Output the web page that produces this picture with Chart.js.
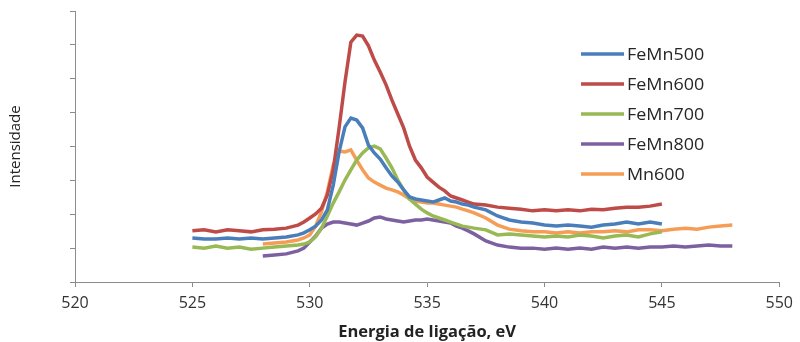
<!DOCTYPE html>
<html>
<head>
<meta charset="utf-8">
<script src="https://cdn.jsdelivr.net/npm/chart.js@4.4.1/dist/chart.umd.min.js"></script>
<style>
  html, body { margin: 0; padding: 0; background: #ffffff; }
  #wrap { width: 800px; height: 342px; position: relative; }
</style>
</head>
<body>
<div id="wrap"><canvas id="c" width="800" height="342"></canvas></div>
<script>
// ---- Data ----
const seriesNames = ["FeMn500", "FeMn600", "FeMn700", "FeMn800", "Mn600"];
const xTickValues = [520, 525, 530, 535, 540, 545, 550];

// binding energy grid for FeMn500 / FeMn600 / FeMn700 (eV)
const energyA = [525,525.5,526,526.5,527,527.5,528,528.5,529,529.5,
  529.75,530,530.25,530.5,530.75,531,531.25,531.5,531.75,532,532.25,532.5,532.75,533,533.25,533.5,533.75,534,534.25,534.5,534.75,535,535.25,535.5,535.75,536,536.25,536.5,536.75,537,
  537.5,538,538.5,539,539.5,540,540.5,541,541.5,542,542.5,543,543.5,544,544.5,545];
// binding energy grid for FeMn800 / Mn600 (eV)
const energyB = [528,528.5,529,529.5,
  529.75,530,530.25,530.5,530.75,531,531.25,531.5,531.75,532,532.25,532.5,532.75,533,533.25,533.5,533.75,534,534.25,534.5,534.75,535,535.25,535.5,535.75,536,536.25,536.5,536.75,537,
  537.5,538,538.5,539,539.5,540,540.5,541,541.5,542,542.5,543,543.5,544,544.5,545,545.5,546,546.5,547,547.5,548];

const feMn500 = [1.30,1.27,1.27,1.30,1.27,1.30,1.27,1.30,1.33,1.39,
  1.45,1.54,1.65,1.83,2.13,2.86,3.84,4.58,4.84,4.78,4.55,4.04,3.81,3.63,3.37,3.13,2.95,2.72,2.51,2.45,2.42,2.39,2.36,2.42,2.48,2.39,2.36,2.30,2.27,2.21,
  2.13,1.95,1.83,1.77,1.74,1.68,1.65,1.68,1.65,1.62,1.68,1.71,1.77,1.71,1.77,1.71];
const feMn600 = [1.51,1.54,1.48,1.54,1.51,1.48,1.54,1.56,1.59,1.68,
  1.77,1.89,2.01,2.18,2.57,3.31,4.55,5.90,7.08,7.29,7.26,6.97,6.55,6.20,5.82,5.37,4.96,4.55,4.01,3.60,3.37,3.10,2.95,2.80,2.69,2.54,2.48,2.42,2.36,2.30,
  2.27,2.21,2.18,2.15,2.10,2.13,2.10,2.13,2.10,2.15,2.13,2.18,2.21,2.21,2.24,2.30];
const feMn700 = [1.03,1.00,1.06,1.00,1.03,0.97,1.00,1.03,1.06,1.09,
  1.12,1.18,1.33,1.59,1.95,2.33,2.66,3.01,3.31,3.60,3.81,3.96,4.01,3.93,3.66,3.37,3.01,2.72,2.45,2.30,2.15,2.04,1.95,1.89,1.83,1.77,1.71,1.65,1.62,1.59,
  1.54,1.39,1.42,1.39,1.36,1.33,1.36,1.33,1.39,1.36,1.30,1.36,1.39,1.33,1.42,1.48];
const feMn800 = [0.77,0.80,0.83,0.92,
  1.00,1.18,1.36,1.59,1.71,1.77,1.77,1.74,1.71,1.68,1.74,1.80,1.89,1.92,1.86,1.83,1.80,1.77,1.80,1.83,1.83,1.86,1.83,1.80,1.77,1.74,1.65,1.59,1.51,1.42,
  1.21,1.09,1.03,1.00,1.00,0.97,1.00,0.97,1.00,0.97,1.03,1.00,1.03,1.00,1.03,1.03,1.06,1.03,1.06,1.09,1.06,1.06];
const mn600 = [1.12,1.15,1.18,1.24,
  1.30,1.39,1.65,2.07,2.66,3.45,3.87,3.84,3.90,3.60,3.31,3.07,2.95,2.86,2.77,2.72,2.66,2.57,2.45,2.39,2.36,2.33,2.33,2.30,2.27,2.24,2.21,2.15,2.10,2.04,
  1.89,1.68,1.56,1.51,1.48,1.48,1.45,1.48,1.45,1.48,1.48,1.51,1.48,1.54,1.54,1.51,1.56,1.59,1.56,1.62,1.65,1.68];

const colors = ["#4A7EBB", "#BE4B48", "#98B954", "#7D60A0", "#F59D56"];

function pts(xs, ys) { return xs.map((x, i) => ({ x: x, y: ys[i] })); }

const datasets = [
  { label: seriesNames[0], data: pts(energyA, feMn500) },
  { label: seriesNames[1], data: pts(energyA, feMn600) },
  { label: seriesNames[2], data: pts(energyA, feMn700) },
  { label: seriesNames[3], data: pts(energyB, feMn800) },
  { label: seriesNames[4], data: pts(energyB, mn600) }
].map((d, i) => Object.assign(d, {
  borderColor: colors[i], backgroundColor: colors[i], borderWidth: 3.5,
  pointRadius: 0, tension: 0, fill: false
}));

const axisGray = "#8C8C8C";
const FONT = "'Open Sans', 'DejaVu Sans', sans-serif";

// custom legend drawn inside the plot area on the right
const sideLegend = {
  id: "sideLegend",
  afterDraw(chart) {
    const ctx = chart.ctx;
    ctx.save();
    ctx.font = "16px " + FONT;
    ctx.textBaseline = "middle";
    ctx.textAlign = "left";
    chart.data.datasets.forEach((ds, i) => {
      const y = 54 + i * 30;
      ctx.strokeStyle = ds.borderColor;
      ctx.lineWidth = 3.5;
      ctx.beginPath();
      ctx.moveTo(581, y);
      ctx.lineTo(624, y);
      ctx.stroke();
      ctx.fillStyle = "#262626";
      ctx.save();
      ctx.translate(627, y + 1);
      ctx.scale(1.12, 1);
      ctx.fillText(ds.label, 0, 0);
      ctx.restore();
    });
    ctx.restore();
  }
};

new Chart(document.getElementById("c"), {
  type: "line",
  data: { datasets: datasets },
  plugins: [sideLegend],
  options: {
    responsive: false,
    animation: false,
    layout: { padding: { top: 11, right: 17, left: 0, bottom: 0 } },
    plugins: { legend: { display: false }, tooltip: { enabled: false } },
    scales: {
      x: {
        type: "linear",
        min: 520, max: 550,
        afterBuildTicks(s) { s.ticks = xTickValues.map(v => ({ value: v })); },
        afterFit(s) { s.height = 60; },
        grid: { drawOnChartArea: false, drawTicks: true, tickLength: 5, color: axisGray },
        border: { display: true, color: axisGray, width: 1 },
        ticks: { color: "#333333", font: { family: FONT, size: 16 }, padding: 7, maxRotation: 0 },
        title: { display: true, text: "Energia de ligação, eV", color: "#222222",
                 font: { family: FONT, size: 16.5, weight: "bold" }, padding: { top: 0, bottom: 0 } }
      },
      y: {
        type: "linear",
        min: 0, max: 8,
        ticks: { stepSize: 1, callback: () => "", padding: 0 },
        afterFit(s) { s.width = 75; },
        grid: { drawOnChartArea: false, drawTicks: true, tickLength: 5, color: axisGray },
        border: { display: true, color: axisGray, width: 1 },
        title: { display: true, text: "Intensidade", color: "#222222",
                 font: { family: FONT, size: 15 }, padding: { top: 7, bottom: 0 } }
      }
    }
  }
});
</script>
</body>
</html>
